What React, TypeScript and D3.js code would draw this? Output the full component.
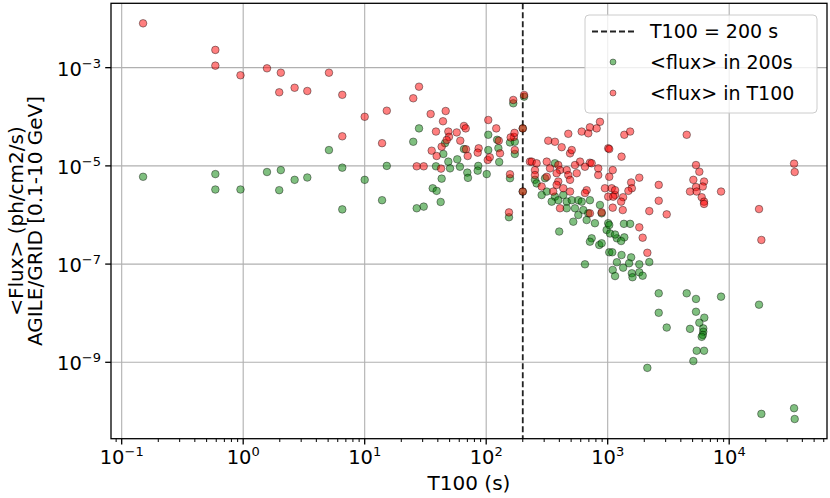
import React from "react";
import * as d3 from "d3";

// T100 (s) and mean flux (ph/cm2/s)
const greenT100 = [
  0.15, 0.59, 0.59, 0.95, 1.57, 2.04, 1.98, 2.65, 3.37, 5.08, 6.54, 6.54, 10.0, 13.9, 15.2,
  28.0, 25.1, 26.8, 30.6, 38.6, 43.0, 36.3, 39.1, 42.2, 44.4, 45.8, 48.8, 50.4, 57.8, 60.8,
  65.6, 69.9, 70.8, 86.1, 85.1, 101, 104, 104, 126, 128, 123, 157, 154, 167, 157, 172, 205,
  172, 200, 200, 252, 305, 260, 368, 368, 392, 431, 315, 286, 346, 460, 506, 573, 611, 714,
  460, 538, 630, 573, 692, 521, 671, 864, 892, 785, 1010, 980, 399, 738, 1190, 650, 1030,
  1045, 1150, 714, 852, 892, 1360, 1530, 1370, 1290, 1030, 1090, 1300, 1560, 1190, 1500,
  1820, 2200, 1100, 1340, 1580, 1600, 1820, 1150, 1940, 2630, 4470, 5330, 8570, 17600, 2630,
  5330, 6240, 5680, 6120, 6120, 6060, 5940, 3060, 4760, 5400, 6210, 5070, 2120, 18400, 34200,
  34600,
];
const greenFlux = [
  6.0e-6, 6.8e-6, 3.3e-6, 3.3e-6, 7.5e-6, 8.2e-6, 3.2e-6, 5.2e-6, 5.8e-6, 2.1e-5, 9.2e-6, 1.3e-6, 5.2e-6, 2.0e-6, 1.0e-5,
  5.8e-5, 3.1e-5, 1.37e-6, 1.48e-6, 9.8e-6, 5.5e-6, 3.5e-6, 3.1e-6, 1.84e-6, 1.75e-5, 2.9e-5, 1.22e-5, 8.9e-6, 1.36e-5, 9.6e-6,
  2.2e-5, 7.3e-6, 5.7e-6, 1.0e-5, 8.0e-6, 6.8e-6, 2.1e-5, 4.3e-5, 2.3e-5, 1.2e-5, 3.4e-5, 5.6e-6, 9.0e-7, 1.88e-4, 3.0e-5, 1.75e-5, 2.57e-4,
  3.1e-5, 5.8e-5, 3.0e-6, 5.2e-6, 5.6e-6, 4.4e-6, 1.13e-5, 2.36e-6, 2.0e-6, 2.55e-6, 3.0e-6, 2.55e-6, 1.87e-6, 1.87e-6, 2.0e-6, 2.0e-6, 1.87e-6, 2.0e-6,
  1.37e-6, 1.37e-6, 1.26e-6, 1.0e-6, 1.08e-6, 7.3e-7, 7.9e-7, 1.6e-6, 1.08e-6, 6.8e-7, 6.8e-7, 4.95e-7, 4.6e-7, 3.35e-7, 3.35e-7, 9.9e-8, 6.25e-7,
  4.2e-7, 4.0e-7, 2.86e-7, 2.45e-7, 2.65e-7, 6.6e-7, 6.6e-7, 3.5e-7, 2.95e-7, 1.74e-7, 1.74e-7, 1.53e-7, 1.37e-7, 1.09e-7, 1.04e-7,
  9.9e-8, 1.1e-7, 7.6e-8, 8.45e-8, 6.5e-8, 5.4e-8, 6.8e-8, 5.7e-8, 5.8e-8, 2.54e-8, 2.54e-8, 1.95e-8, 2.17e-8, 1.49e-8, 1.02e-8,
  1.07e-8, 8.1e-9, 6.4e-9, 4.9e-9, 4.2e-9, 3.6e-9, 3.3e-9, 5.1e-9, 4.8e-9, 1.72e-9, 1.72e-9, 1.06e-9, 7.7e-10, 8.9e-11, 1.16e-10,
  7.0e-11,
];
const redT100 = [
  0.15, 0.59, 0.59, 0.95, 1.57, 2.04, 1.98, 2.65, 3.37, 5.08, 6.54, 10.0, 15.2, 6.54, 13.9,
  28.0, 25.1, 34.9, 46.4, 44.1, 38.6, 48.8, 57.2, 65.6, 67.8, 49.4, 47.3, 61.2, 35.6, 43.0,
  39.1, 68.2, 70.4, 86.7, 85.1, 104, 121, 127, 130, 103, 107, 26.8, 30.6, 42.5, 157, 154,
  167, 169, 159, 171, 172, 200, 200, 205, 229,
  474, 611, 692, 714, 864, 811, 324, 368, 418, 490, 506, 592, 714, 1010, 237, 260, 315, 252,
  335, 392, 405, 460, 538, 650, 556, 836, 252, 315, 380, 474, 392, 490, 286, 380, 431, 490,
  671, 949, 1080, 1010, 1150, 650, 405, 356, 836,
  1370, 1530, 4470, 1030, 1300, 1100, 1030, 1820, 1560, 1580, 1480, 2630, 2630, 3060, 2200,
  1340, 1290, 1330, 1100, 892, 1820, 1940, 2120, 1150, 1110, 5330, 5680, 5070, 6210, 6060,
  5330, 4760, 5400, 5940, 6210, 6210, 8570, 17600, 18400, 34200, 34600, 738, 714,
];
const redFlux = [
  8.0e-3, 2.3e-3, 1.1e-3, 7.0e-4, 9.7e-4, 7.9e-4, 3.15e-4, 3.9e-4, 3.35e-4, 7.9e-4, 2.8e-4, 1.0e-4, 1.33e-4, 4.0e-5, 2.9e-5,
  4.1e-4, 2.38e-4, 1.14e-4, 1.31e-4, 8.1e-5, 5.0e-5, 5.0e-5, 4.8e-5, 6.5e-5, 5.8e-5, 3.9e-5, 3.37e-5, 3.26e-5, 2.04e-5, 2.46e-5,
  1.59e-5, 2.18e-5, 1.59e-5, 2.28e-5, 1.86e-5, 8.6e-5, 5.8e-5, 3.26e-5, 1.8e-5, 1.32e-5, 1.5e-5, 9.8e-6, 9.8e-6, 8.8e-6, 6.75e-6, 1.13e-6,
  2.2e-4, 3.9e-5, 3.8e-5, 4.7e-5, 2.1e-5, 5.8e-5, 3.0e-6, 2.78e-4, 1.22e-5,
  4.5e-5, 5.0e-5, 4.6e-5, 6.1e-5, 7.9e-5, 5.8e-5, 3.26e-5, 3.1e-5, 2.4e-5, 1.8e-5, 2.1e-5, 1.22e-5, 1.16e-5, 2.28e-5, 1.22e-5, 1.13e-5, 1.22e-5, 8.2e-6,
  8.9e-6, 1.04e-5, 8.2e-6, 8.2e-6, 1.04e-5, 9.6e-6, 7.1e-6, 6.5e-6, 6.5e-6, 6.0e-6, 7.1e-6, 6.5e-6, 4.8e-6, 5.2e-6, 3.8e-6, 4.1e-6, 3.5e-6, 3.0e-6,
  3.2e-6, 3.5e-6, 3.5e-6, 2.36e-6, 2.55e-6, 2.8e-6, 1.37e-6, 3.0e-6, 8.9e-6,
  4.3e-5, 5.0e-5, 4.3e-5, 2.2e-5, 1.54e-5, 8.2e-6, 6.0e-6, 5.75e-6, 4.6e-6, 3.5e-6, 3.1e-6, 4.1e-6, 1.95e-6, 1.03e-6, 1.2e-6,
  2.3e-6, 1.87e-6, 1.26e-6, 1.41e-6, 1.13e-6, 5.6e-7, 3.45e-7, 1.7e-7, 3.2e-6, 2.36e-6, 1.04e-5, 7.6e-6, 5.2e-6, 4.8e-6, 3.8e-6,
  3.7e-6, 3.0e-6, 3.0e-6, 2.3e-6, 1.87e-6, 1.68e-6, 3.0e-6, 1.32e-6, 3.1e-7, 1.11e-5, 7.5e-6, 1.13e-5, 1.08e-6,
];

const xTickExps = [-1, 0, 1, 2, 3, 4];
const yTickExps = [-3, -5, -7, -9];
const tCut = 200;
const legendLabels = ["T100 = 200 s", "<flux> in 200s", "<flux> in T100"];

const W = 830;
const H = 498;
const box = { left: 111, right: 827, top: 3.3, bottom: 438.7 };
const FONT = "DejaVu Sans";

const Pow10 = ({ exp, ...props }: any) => (
  <text {...props} fontFamily={FONT} fill="#000">
    <tspan fontSize={19.5}>10</tspan>
    <tspan fontSize={13} dy={-8}>{exp < 0 ? `\u2212${-exp}` : exp}</tspan>
  </text>
);

export default function App() {
  const x = d3.scaleLog().domain([10 ** -1.088, 10 ** 4.805]).range([box.left, box.right]);
  const y = d3.scaleLog().domain([10 ** -10.556, 10 ** -1.689]).range([box.bottom, box.top]);

  const xMinor = x.ticks().filter((t) => {
    const l = Math.log10(t);
    return Math.abs(l - Math.round(l)) > 1e-6;
  });

  const green = greenT100.map((t, i) => [t, greenFlux[i]]);
  const red = redT100.map((t, i) => [t, redFlux[i]]);

  return (
    <svg width={W} height={H} style={{ position: "absolute", left: 0, top: 0, background: "#fff" }}>
      {/* grid */}
      {xTickExps.map((e) => (
        <line key={"gx" + e} x1={x(10 ** e)} x2={x(10 ** e)} y1={box.top} y2={box.bottom} stroke="#b0b0b0" strokeWidth={1.1} />
      ))}
      {yTickExps.map((e) => (
        <line key={"gy" + e} x1={box.left} x2={box.right} y1={y(10 ** e)} y2={y(10 ** e)} stroke="#b0b0b0" strokeWidth={1.1} />
      ))}

      {/* threshold line */}
      <line x1={x(tCut)} x2={x(tCut)} y1={box.top} y2={box.bottom} stroke="#222" strokeWidth={1.8} strokeDasharray="6 3" />

      {/* points */}
      {green.map(([t, f], i) => (
        <circle key={"g" + i} cx={x(t)} cy={y(f)} r={3.8} fill="green" fillOpacity={0.5} stroke="#000" strokeOpacity={0.5} strokeWidth={0.8} />
      ))}
      {red.map(([t, f], i) => (
        <circle key={"r" + i} cx={x(t)} cy={y(f)} r={3.8} fill="red" fillOpacity={0.5} stroke="#000" strokeOpacity={0.5} strokeWidth={0.8} />
      ))}

      {/* spines */}
      <rect x={box.left} y={box.top} width={box.right - box.left} height={box.bottom - box.top} fill="none" stroke="#000" strokeWidth={1.3} />

      {/* x ticks */}
      {xTickExps.map((e) => (
        <g key={"xt" + e}>
          <line x1={x(10 ** e)} x2={x(10 ** e)} y1={box.bottom} y2={box.bottom + 5.8} stroke="#000" strokeWidth={1.3} />
          <Pow10 exp={e} x={x(10 ** e)} y={464} textAnchor="middle" />
        </g>
      ))}
      {xMinor.map((t, i) => (
        <line key={"xm" + i} x1={x(t)} x2={x(t)} y1={box.bottom} y2={box.bottom + 3.3} stroke="#000" strokeWidth={1} />
      ))}

      {/* y ticks */}
      {yTickExps.map((e) => (
        <g key={"yt" + e}>
          <line x1={box.left - 5.8} x2={box.left} y1={y(10 ** e)} y2={y(10 ** e)} stroke="#000" strokeWidth={1.3} />
          <Pow10 exp={e} x={101} y={y(10 ** e) + 8} textAnchor="end" />
        </g>
      ))}

      {/* axis labels */}
      <text x={(box.left + box.right) / 2} y={490} textAnchor="middle" fontFamily={FONT} fontSize={20}>T100 (s)</text>
      <g transform={`translate(0, ${(box.top + box.bottom) / 2}) rotate(-90)`}>
        <text x={0} y={23} textAnchor="middle" fontFamily={FONT} fontSize={20}>{"<Flux> (ph/cm2/s)"}</text>
        <text x={0} y={42} textAnchor="middle" fontFamily={FONT} fontSize={20}>AGILE/GRID [0.1-10 GeV]</text>
      </g>

      {/* legend */}
      <g>
        <rect x={585} y={15} width={232} height={98} rx={4} fill="#fff" fillOpacity={0.8} stroke="#cccccc" strokeWidth={1} />
        <line x1={592} x2={635} y1={31.5} y2={31.5} stroke="#222" strokeWidth={1.8} strokeDasharray="6 3" />
        <circle cx={613} cy={62} r={3} fill="green" fillOpacity={0.5} stroke="#000" strokeOpacity={0.5} strokeWidth={0.8} />
        <circle cx={613} cy={93} r={3} fill="red" fillOpacity={0.5} stroke="#000" strokeOpacity={0.5} strokeWidth={0.8} />
        {legendLabels.map((s, i) => (
          <text key={s} x={650} y={38 + i * 31} fontFamily={FONT} fontSize={19}>{s}</text>
        ))}
      </g>
    </svg>
  );
}
